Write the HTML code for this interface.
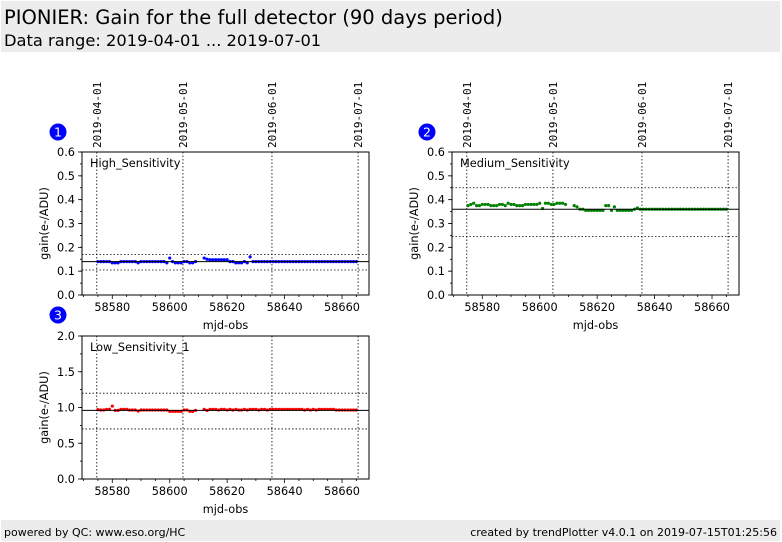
<!DOCTYPE html>
<html><head><meta charset="utf-8"><style>
body{margin:0;width:782px;height:542px;background:#fff;overflow:hidden;font-family:"DejaVu Sans","Liberation Sans",sans-serif}
svg{position:absolute;left:0;top:0}
</style></head><body>
<svg id="c" width="782" height="542">
<rect x="1" y="1" width="779" height="51" fill="#ececec"/>
<text x="4" y="24" font-size="19.5" fill="#000">PIONIER: Gain for the full detector (90 days period)</text>
<text x="4" y="46" font-size="16.3" fill="#000">Data range: 2019-04-01 ... 2019-07-01</text>
<rect x="1" y="520" width="779" height="21" fill="#ececec"/>
<text x="4" y="536" font-size="11">powered by QC: www.eso.org/HC</text>
<text x="777" y="536" font-size="11" text-anchor="end">created by trendPlotter v4.0.1 on 2019-07-15T01:25:56</text>
<g id="plots"></g>
</svg>
<script>
const days=[58575,58576,58577,58578,58579,58580,58581,58582,58583,58584,58585,58586,58587,58588,58589,58590,58591,58592,58593,58594,58595,58596,58597,58598,58599,58600,58601,58602,58603,58604,58605,58606,58607,58608,58609,
58612,58613,58614,58615,58616,58617,58618,58619,58620,58621,58622,58623,58624,58625,58626,58627,58628,58629,58630,58631,58632,58633,58634,58635,58636,58637,58638,58639,58640,58641,58642,58643,58644,58645,58646,58647,58648,58649,58650,58651,58652,58653,58654,58655,58656,58657,58658,58659,58660,58661,58662,58663,58664,58665];
const highVals=[.14,.14,.14,.14,.14,.135,.135,.135,.14,.14,.14,.14,.14,.14,.135,.14,.14,.14,.14,.14,.14,.14,.14,.14,.135,.155,.14,.135,.135,.135,.14,.14,.135,.135,.14,
.155,.15,.148,.148,.148,.148,.148,.148,.148,.14,.14,.135,.135,.135,.14,.135,.16,.14,.14,.14,.14,.14,.14,.14,.14,.14,.14,.14,.14,.14,.14,.14,.14,.14,.14,.14,.14,.14,.14,.14,.14,.14,.14,.14,.14,.14,.14,.14,.14,.14,.14,.14,.14,.14];
const medVals=[.375,.38,.385,.375,.375,.38,.38,.38,.375,.375,.375,.38,.38,.375,.385,.38,.38,.375,.375,.375,.38,.38,.38,.38,.38,.385,.363,.385,.385,.38,.38,.385,.385,.385,.38,
.375,.37,.36,.36,.355,.355,.355,.355,.355,.355,.355,.375,.375,.355,.37,.355,.355,.355,.355,.355,.355,.36,.365,.36,.36,.36,.36,.36,.36,.36,.36,.36,.36,.36,.36,.36,.36,.36,.36,.36,.36,.36,.36,.36,.36,.36,.36,.36,.36,.36,.36,.36,.36,.36];
const lowVals=[.97,.965,.965,.975,.975,1.02,.96,.96,.975,.975,.975,.965,.965,.965,.95,.965,.965,.965,.965,.965,.965,.965,.965,.965,.965,.945,.945,.945,.945,.945,.965,.965,.945,.945,.96,
.975,.96,.975,.975,.975,.965,.975,.975,.965,.975,.965,.975,.965,.965,.975,.965,.975,.975,.975,.965,.975,.975,.965,.975,.975,.975,.975,.975,.975,.975,.975,.975,.975,.975,.975,.965,.975,.965,.975,.965,.975,.975,.975,.975,.975,.975,.965,.965,.965,.965,.965,.965,.965,.965];
const xTicks=[58580,58600,58620,58640,58660];
const dateLines=[58574.6,58604.6,58635.6,58665.6];
const dateLabels=["2019-04-01","2019-05-01","2019-06-01","2019-07-01"];
const panels=[
 {n:"1",name:"High_Sensitivity",vals:highVals,color:"#0000ff",ymax:.6,yt:[0,.1,.2,.3,.4,.5,.6],minor:.05,mean:.14,lo:.105,hi:.17,x0:82,y0:152,badge:[58,132]},
 {n:"2",name:"Medium_Sensitivity",vals:medVals,color:"#008000",ymax:.6,yt:[0,.1,.2,.3,.4,.5,.6],minor:.05,mean:.36,lo:.245,hi:.45,x0:452,y0:152,badge:[427,132]},
 {n:"3",name:"Low_Sensitivity_1",vals:lowVals,color:"#ff0000",ymax:2,yt:[0,.5,1,1.5,2],minor:.25,mean:.96,lo:.7,hi:1.2,x0:82,y0:336,badge:[58,315]}
];
const NS="http://www.w3.org/2000/svg";
const root=document.getElementById('plots');
function mk(t,a,p,txt){const e=document.createElementNS(NS,t);for(const k in a)e.setAttribute(k,a[k]);if(txt!==undefined)e.textContent=txt;(p||root).appendChild(e);return e;}
const W=287,H=143,D0=58569.45,D1=58669.4,FS=11.3;
panels.forEach((p,pi)=>{
 const g=mk('g',{});
 
 
 const X=d=>p.x0+(d-D0)/(D1-D0)*W;
 const Y=v=>p.y0+H-v/p.ymax*H;
 if(pi<2){dateLines.forEach((d,i)=>{const t=mk('text',{x:0,y:0,'font-size':11,'font-family':'"DejaVu Sans Mono","Liberation Mono",monospace',transform:`translate(${X(d)+4},${p.y0-4}) rotate(-90)`},g,dateLabels[i]);
  
  });}
 dateLines.forEach(d=>{const l=mk('line',{x1:X(d),x2:X(d),y1:p.y0,y2:p.y0+H,stroke:'#000','stroke-width':.8,'stroke-dasharray':'1.5,2'},g);
  
  });
 [p.lo,p.hi].forEach(v=>{const l=mk('line',{x1:p.x0,x2:p.x0+W,y1:Y(v),y2:Y(v),stroke:'#000','stroke-width':.8,'stroke-dasharray':'1.5,2'},g);
  
  });
 days.forEach((d,i)=>{const c=mk('circle',{cx:X(d),cy:Y(p.vals[i]),r:1.6,fill:p.color},g);
  
  });
 const ml=mk('line',{x1:p.x0,x2:p.x0+W,y1:Y(p.mean),y2:Y(p.mean),stroke:'#000','stroke-width':1},g);
 
 
 const fr=mk('rect',{x:p.x0,y:p.y0,width:W,height:H,fill:'none',stroke:'#000','stroke-width':1},g);
 
 
 for(let d=58570;d<=58668;d+=5){mk('line',{x1:X(d),x2:X(d),y1:p.y0+H,y2:p.y0+H+(d%20===0?4:2),stroke:'#000','stroke-width':.8},g);}
 xTicks.forEach(d=>{const t=mk('text',{x:X(d),y:p.y0+H+16,'font-size':FS,'text-anchor':'middle'},g,String(d));
  
  });
 for(let v=0;v<=p.ymax+1e-9;v+=p.minor){mk('line',{x1:p.x0,x2:p.x0-2,y1:Y(v),y2:Y(v),stroke:'#000','stroke-width':.8},g);}
 p.yt.forEach(v=>{mk('line',{x1:p.x0,x2:p.x0-4,y1:Y(v),y2:Y(v),stroke:'#000','stroke-width':.8},g);
  const t=mk('text',{x:p.x0-7,y:Y(v)+4,'font-size':FS,'text-anchor':'end'},g,v.toFixed(1));
  
  });
 const xt=mk('text',{x:p.x0+W/2,y:p.y0+H+34,'font-size':FS,'text-anchor':'middle'},g,'mjd-obs');
 
 
 const yt=mk('text',{x:0,y:0,'font-size':FS,'text-anchor':'middle',transform:`translate(${p.x0-34},${p.y0+H/2}) rotate(-90)`},g,'gain(e-/ADU)');
 
 
 const lb=mk('text',{x:p.x0+8,y:p.y0+15,'font-size':FS},g,p.name);
 
 
 const bc=mk('circle',{cx:p.badge[0],cy:p.badge[1],r:8.5,fill:'#0000ff'},g);
 
 
 mk('text',{x:p.badge[0],y:p.badge[1]+4.5,'font-size':12.5,fill:'#fff','text-anchor':'middle'},g,p.n);
});
</script>
</body></html>
